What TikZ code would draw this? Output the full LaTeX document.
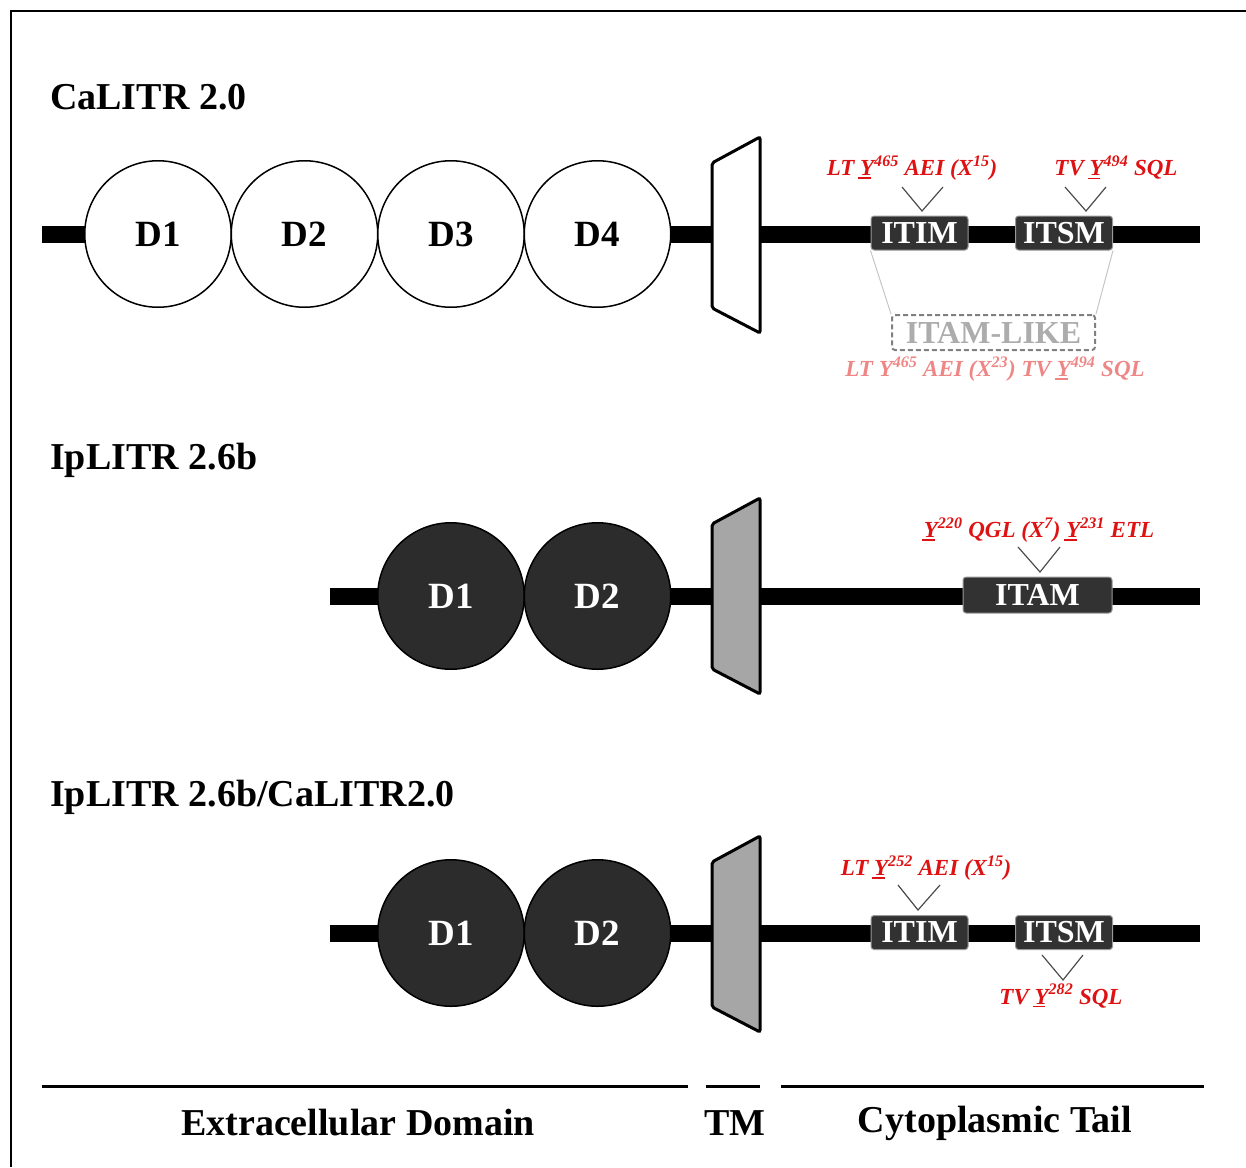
\documentclass[tikz,border=0pt]{standalone}
\usepackage{fontspec}
\setmainfont{Liberation Serif}
\usetikzlibrary{positioning}

\definecolor{motifred}{RGB}{222,18,18}
\definecolor{motifpink}{RGB}{238,134,134}
\definecolor{boxdark}{RGB}{50,50,50}
\definecolor{domdark}{RGB}{44,44,44}
\definecolor{tmgray}{RGB}{166,166,166}

% underlined tyrosine
\newcommand{\ulY}{\setbox0\hbox{Y}\rlap{\kern-0.08em\rule[-0.14em]{0.9\wd0}{0.07em}}Y}

\begin{document}
\begin{tikzpicture}[
    x=1pt, y=-1pt,
    rowtitle/.style={anchor=west, inner sep=0pt,
                font=\fontsize{38}{44}\selectfont\bfseries},
    dom/.style={circle, draw, line width=1.5pt, fill=white,
                minimum size=146.5pt, inner sep=0pt, outer sep=0pt,
                font=\fontsize{37}{40}\selectfont\bfseries},
    domdk/.style={dom, fill=domdark, text=white},
    motifbox/.style={rectangle, draw=gray!80, line width=1pt, fill=boxdark,
                rounded corners=3pt, text=white, inner sep=0pt,
                minimum width=97pt, minimum height=34pt,
                font=\fontsize{32}{36}\selectfont\bfseries},
    likebox/.style={motifbox, draw=gray, fill=white, text=gray!65,
                dash pattern=on 5pt off 3pt, line width=2pt,
                minimum width=203pt, minimum height=35pt},
    motif/.style={inner sep=0pt, text=motifred,
                font=\fontsize{23}{26}\selectfont\bfseries\itshape},
    motiffade/.style={motif, text=motifpink},
    vee/.style={draw=black!70, line width=1.2pt},
    faint/.style={draw=gray!45, line width=1pt},
    stalk/.style={line width=17pt},
    tmseg/.style={line width=3pt, rounded corners=2pt},
    axis/.style={line width=3pt},
    domlabel/.style={inner sep=0pt,
                font=\fontsize{38}{44}\selectfont\bfseries}
]
  \useasboundingbox (0,0) rectangle (1246,1167);
  \draw[line width=2pt] (11,1167) -- (11,11) -- (1246,11);

  % CaLITR 2.0
  \node[rowtitle] (t1) at (50,97) {CaLITR 2.0};
  \coordinate (s1a) at (42,234);
  \coordinate (s1b) at (1200,234);
  \draw[stalk] (s1a) -- (s1b);
  \node[dom] (c1d1) at (158,234) {D1};
  \node[dom, right=0pt of c1d1] (c1d2) {D2};
  \node[dom, right=0pt of c1d2] (c1d3) {D3};
  \node[dom, right=0pt of c1d3] (c1d4) {D4};
  \draw[tmseg, fill=white] (712,163) -- (760,137) -- (760,333) -- (712,308) -- cycle;
  \node[motifbox] (itim1) at (919.5,233) {ITIM};
  \node[motifbox] (itsm1) at (1064,233) {ITSM};
  \node[motif] (m1) at (912,168) {LT \ulY\textsuperscript{465} AEI (X\textsuperscript{15})};
  \node[motif] (m2) at (1116,168) {TV \ulY\textsuperscript{494} SQL};
  \coordinate (v1l) at (902,187); \coordinate (v1) at (922,211); \coordinate (v1r) at (943,187);
  \coordinate (v2l) at (1065,187); \coordinate (v2) at (1086,211); \coordinate (v2r) at (1106,187);
  \draw[vee] (v1l) -- (v1) -- (v1r);
  \draw[vee] (v2l) -- (v2) -- (v2r);
  \node[likebox] (like) at (993.5,332.5) {ITAM-LIKE};
  \draw[faint] (itim1.south west) -- (like.north west);
  \draw[faint] (itsm1.south east) -- (like.north east);
  \node[motiffade] (m3) at (995,369) {LT Y\textsuperscript{465} AEI (X\textsuperscript{23}) TV \ulY\textsuperscript{494} SQL};

  % IpLITR 2.6b
  \node[rowtitle] (t2) at (50,460) {IpLITR 2.6b};
  \coordinate (s2a) at (330,596);
  \coordinate (s2b) at (1200,596);
  \draw[stalk] (s2a) -- (s2b);
  \node[domdk] (c2d1) at (451,596) {D1};
  \node[domdk, right=0pt of c2d1] (c2d2) {D2};
  \draw[tmseg, fill=tmgray] (712,524) -- (760,498) -- (760,694) -- (712,669) -- cycle;
  \node[motifbox, minimum width=149pt, minimum height=36pt] (itam2) at (1037.5,595) {ITAM};
  \node[motif] (m4) at (1039,530) {\ulY\textsuperscript{220} QGL (X\textsuperscript{7}) \ulY\textsuperscript{231} ETL};
  \coordinate (v3l) at (1018,547); \coordinate (v3) at (1040,572); \coordinate (v3r) at (1060,547);
  \draw[vee] (v3l) -- (v3) -- (v3r);

  % IpLITR 2.6b/CaLITR2.0
  \node[rowtitle] (t3) at (50,797) {IpLITR 2.6b/CaLITR2.0};
  \coordinate (s3a) at (330,933);
  \coordinate (s3b) at (1200,933);
  \draw[stalk] (s3a) -- (s3b);
  \node[domdk] (c3d1) at (451,933) {D1};
  \node[domdk, right=0pt of c3d1] (c3d2) {D2};
  \draw[tmseg, fill=tmgray] (712,862) -- (760,836) -- (760,1032) -- (712,1007) -- cycle;
  \node[motifbox] (itim3) at (919.5,932.5) {ITIM};
  \node[motifbox] (itsm3) at (1064,932.5) {ITSM};
  \node[motif] (m5) at (926,868) {LT \ulY\textsuperscript{252} AEI (X\textsuperscript{15})};
  \node[motif] (m6) at (1061,996) {TV \ulY\textsuperscript{282} SQL};
  \coordinate (v4l) at (898,885); \coordinate (v4) at (918,910); \coordinate (v4r) at (940,885);
  \coordinate (v5l) at (1042,955); \coordinate (v5) at (1063,980); \coordinate (v5r) at (1083,955);
  \draw[vee] (v4l) -- (v4) -- (v4r);
  \draw[vee] (v5l) -- (v5) -- (v5r);

  % domains along the membrane
  \draw[axis] (42,1086) -- (688,1086);
  \draw[axis] (706,1086) -- (760,1086);
  \draw[axis] (781,1086) -- (1204,1086);
  \node[domlabel] (ecd) at (358,1123) {Extracellular Domain};
  \node[domlabel] (tmd) at (735,1123) {TM};
  \node[domlabel] (cyt) at (995,1123) {Cytoplasmic Tail};
\end{tikzpicture}
\end{document}
